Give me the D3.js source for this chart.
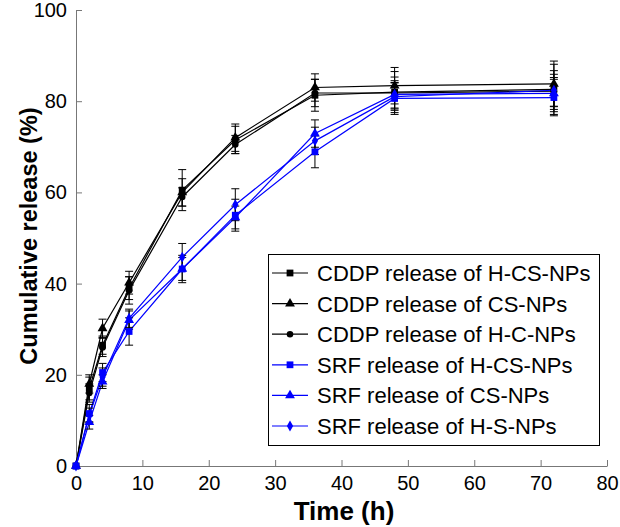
<!DOCTYPE html>
<html>
<head>
<meta charset="utf-8">
<script src="https://cdn.jsdelivr.net/npm/d3@7"></script>
<style>
  body { margin: 0; background: #fff; }
  svg { display: block; font-family: "Liberation Sans", Arial, sans-serif; }
</style>
</head>
<body>
<div id="chart"></div>
<script>
// time points (h)
const times = [0, 2, 4, 8, 16, 24, 36, 48, 72];

// series values (%)
const cddpHCS = [0, 17.0, 26.5, 39.0, 60.5, 71.5, 81.3, 82.0, 82.6];
const cddpCS  = [0, 18.0, 30.2, 40.2, 60.0, 72.0, 83.0, 83.4, 83.8];
const cddpHC  = [0, 16.0, 26.0, 38.5, 59.0, 70.5, 81.8, 81.8, 82.2];
const srfHCS  = [0, 11.5, 20.5, 29.5, 43.2, 55.0, 68.9, 80.6, 80.8];
const srfCS   = [0, 9.6, 18.5, 32.0, 43.2, 54.5, 72.9, 81.5, 81.7];
const srfHS   = [0, 11.2, 19.5, 32.4, 45.8, 57.3, 71.3, 81.0, 82.4];

// error bar half widths (%)
const errCddpHCS = [0, 2.5, 2.0, 2.5, 4.5, 3.0, 3.5, 4.5, 5.5];
const errCddpCS  = [0, 2.0, 2.0, 2.5, 3.0, 3.0, 3.0, 4.0, 5.0];
const errCddpHC  = [0, 2.0, 2.0, 3.0, 2.0, 2.0, 3.0, 3.5, 4.5];
const errSrfHCS  = [0, 2.0, 2.0, 3.0, 3.0, 3.5, 3.5, 3.5, 4.0];
const errSrfCS   = [0, 1.5, 1.5, 2.0, 2.5, 2.5, 3.0, 3.0, 3.5];
const errSrfHS   = [0, 1.5, 2.0, 2.0, 3.0, 3.5, 3.0, 3.0, 3.5];

const seriesNames = [
  "CDDP release of H-CS-NPs",
  "CDDP release of CS-NPs",
  "CDDP release of H-C-NPs",
  "SRF release of H-CS-NPs",
  "SRF release of CS-NPs",
  "SRF release of H-S-NPs"
];
const xTicks = [0, 10, 20, 30, 40, 50, 60, 70, 80];
const yTicks = [0, 20, 40, 60, 80, 100];

const series = [
  { name: seriesNames[0], values: cddpHCS, err: errCddpHCS, color: "#000", shape: "square" },
  { name: seriesNames[1], values: cddpCS,  err: errCddpCS,  color: "#000", shape: "triangle" },
  { name: seriesNames[2], values: cddpHC,  err: errCddpHC,  color: "#000", shape: "circle" },
  { name: seriesNames[3], values: srfHCS,  err: errSrfHCS,  color: "#0000ff", shape: "square" },
  { name: seriesNames[4], values: srfCS,   err: errSrfCS,   color: "#0000ff", shape: "triangle" },
  { name: seriesNames[5], values: srfHS,   err: errSrfHS,   color: "#0000ff", shape: "diamond" }
];

const W = 620, H = 527;
const svg = d3.select("#chart").append("svg")
  .attr("width", W).attr("height", H);

const x = d3.scaleLinear().domain([0, 80]).range([76, 607]);
const y = d3.scaleLinear().domain([0, 100]).range([466, 10]);

const symbolType = {
  square: d3.symbolSquare,
  triangle: d3.symbolTriangle,
  circle: d3.symbolCircle,
  diamond: d3.symbolDiamond
};
const symbolSize = { square: 46, triangle: 42, circle: 34, diamond: 34 };

// axes
const xAxisG = svg.append("g")
  .attr("transform", `translate(0,${y(0)})`)
  .call(d3.axisBottom(x).tickValues(xTicks).tickSizeInner(-6).tickSizeOuter(0).tickPadding(10));
const yAxisG = svg.append("g")
  .attr("transform", `translate(${x(0)},0)`)
  .call(d3.axisLeft(y).tickValues(yTicks).tickSizeInner(-6).tickSizeOuter(0).tickPadding(9));

[xAxisG, yAxisG].forEach(g => {
  g.selectAll("path, line").attr("stroke", "#777").attr("stroke-width", 1);
  g.selectAll("text")
    .attr("fill", "#000")
    .attr("font-size", "20px")
    .attr("font-family", "Liberation Sans, Arial, sans-serif");
});

svg.append("text")
  .attr("x", 344).attr("y", 520)
  .attr("text-anchor", "middle")
  .attr("font-size", "26px")
  .attr("font-weight", "bold")
  .text("Time (h)");

svg.append("text")
  .attr("transform", `translate(37,${y(50) - 2}) rotate(-90)`)
  .attr("text-anchor", "middle")
  .attr("font-size", "23.5px")
  .attr("font-weight", "bold")
  .text("Cumulative release (%)");

const line = d3.line()
  .x((d, i) => x(times[i]))
  .y(d => y(d));

// lines
series.forEach(s => {
  svg.append("path")
    .datum(s.values)
    .attr("fill", "none")
    .attr("stroke", s.color)
    .attr("stroke-width", 1.2)
    .attr("d", line);
});

// error bars (black)
series.forEach(s => {
  const g = svg.append("g").attr("stroke", "#000").attr("stroke-width", 1);
  s.values.forEach((v, i) => {
    const e = s.err[i];
    if (!e) return;
    const cx = x(times[i]);
    g.append("line").attr("x1", cx).attr("x2", cx).attr("y1", y(v - e)).attr("y2", y(v + e));
    g.append("line").attr("x1", cx - 4).attr("x2", cx + 4).attr("y1", y(v - e)).attr("y2", y(v - e));
    g.append("line").attr("x1", cx - 4).attr("x2", cx + 4).attr("y1", y(v + e)).attr("y2", y(v + e));
  });
});

// markers
series.forEach(s => {
  const sym = d3.symbol().type(symbolType[s.shape]).size(symbolSize[s.shape]);
  svg.append("g").selectAll("path")
    .data(s.values)
    .join("path")
    .attr("transform", (d, i) => `translate(${x(times[i])},${y(d)})`)
    .attr("d", sym)
    .attr("fill", s.color);
});

// legend
const legend = svg.append("g");
legend.append("rect")
  .attr("x", 268.5).attr("y", 254.5)
  .attr("width", 331).attr("height", 191)
  .attr("fill", "#fff")
  .attr("stroke", "#000")
  .attr("stroke-width", 1);

series.forEach((s, i) => {
  const ly = 273 + i * 30.6;
  legend.append("line")
    .attr("x1", 272).attr("x2", 308)
    .attr("y1", ly).attr("y2", ly)
    .attr("stroke", s.color).attr("stroke-width", 1.2);
  legend.append("path")
    .attr("transform", `translate(290,${ly})`)
    .attr("d", d3.symbol().type(symbolType[s.shape]).size(symbolSize[s.shape])())
    .attr("fill", s.color);
  legend.append("text")
    .attr("x", 317).attr("y", ly)
    .attr("dy", "0.36em")
    .attr("font-size", "22px")
    .attr("fill", "#000")
    .text(s.name);
});
</script>
</body>
</html>
